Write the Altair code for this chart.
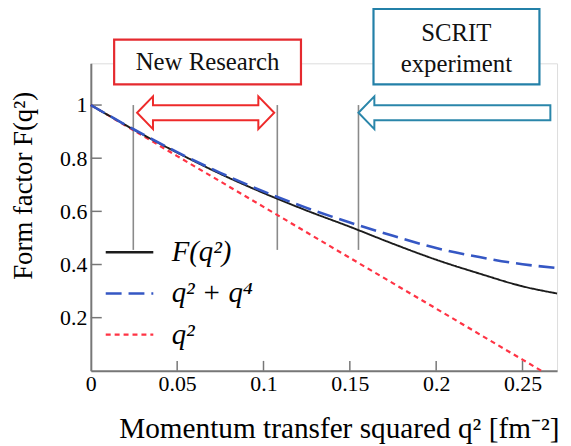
import altair as alt
import pandas as pd

# ---------------- data ----------------
series = ["F(q²)", "q² + q⁴", "q²"]
series_colors = ["#1c1c1c", "#3557c4", "#ff3344"]
series_dash = [[1, 0], [16, 7], [5, 4]]

x_curve = [0, 0.025, 0.05, 0.075, 0.1, 0.125, 0.15, 0.175, 0.2, 0.225, 0.25, 0.27]
f_full = [1.0, 0.907, 0.821, 0.741, 0.669, 0.603, 0.542, 0.478, 0.418, 0.366, 0.318, 0.291]
f_q2q4 = [1.0, 0.908, 0.823, 0.745, 0.675, 0.613, 0.558, 0.508, 0.462, 0.428, 0.401, 0.387]
x_line = [0, 0.05, 0.1, 0.15, 0.2, 0.25, 0.261]
f_q2 = [1.0, 0.808, 0.617, 0.425, 0.234, 0.042, 0.0]

x_ticks = [0, 0.05, 0.1, 0.15, 0.2, 0.25]
y_ticks = [0.2, 0.4, 0.6, 0.8, 1.0]
x_domain = [0, 0.27]
y_domain = [0, 1.157]

marker_x = [0.0246, 0.108, 0.155]
marker_top = [1.0, 1.0, 1.0]
marker_bottom = [0.455, 0.455, 0.455]

box_x0 = [0.0135, 0.1637]
box_x1 = [0.1217, 0.2598]
box_y0 = [1.078, 1.078]
box_y1 = [1.246, 1.362]
box_colors = ["#e52a2f", "#2380a8"]

box_text = ["New Research", "SCRIT", "experiment"]
box_text_x = [0.0676, 0.2117, 0.2117]
box_text_y = [1.160, 1.269, 1.153]

# arrows: start, end, y, heads at (left, right), colour
arrow_x0 = [0.0268, 0.155]
arrow_x1 = [0.1062, 0.2667]
arrow_y = [0.971, 0.971]
arrow_left_head = [True, True]
arrow_right_head = [True, False]
arrow_colors = ["#ee2a2a", "#2a86aa"]

# ---------------- chart ----------------
FONT = "Liberation Serif"
W, H = 470, 310
xs = alt.Scale(domain=x_domain, nice=False, zero=False)
ys = alt.Scale(domain=y_domain, nice=False, zero=False)

curves = pd.concat([
    pd.DataFrame({"x": x_curve, "F": f_full, "series": series[0]}),
    pd.DataFrame({"x": x_curve, "F": f_q2q4, "series": series[1]}),
    pd.DataFrame({"x": x_line, "F": f_q2, "series": series[2]}),
])

legend = alt.Legend(
    title=None, orient="none", legendX=13.5, legendY=165,
    symbolType="stroke", symbolSize=2300, symbolStrokeWidth=2.5,
    labelFont=FONT, labelFontStyle="italic", labelFontSize=29,
    labelColor="black", labelOffset=17, rowPadding=0.5, padding=0,
)

color_enc = alt.Color("series:N", scale=alt.Scale(domain=series, range=series_colors),
                      sort=series, legend=legend)
dash_enc = alt.StrokeDash("series:N", scale=alt.Scale(domain=series, range=series_dash),
                          sort=series, legend=legend)

x_axis = alt.Axis(values=x_ticks, labelExpr="format(datum.value, '~g')", ticks=False,
                  grid=False, labelFont=FONT, labelFontSize=22, labelColor="black",
                  labelPadding=3, domainColor="#777", domainWidth=2,
                  title="Momentum transfer squared q² [fm⁻²]", titleFont=FONT,
                  titleFontSize=29.5, titleFontWeight="normal", titleColor="black",
                  titleX=250, titleY=58, titleBaseline="middle", titleAlign="center",
                  labelFlush=False)
y_axis = alt.Axis(values=y_ticks, labelExpr="format(datum.value, '~g')", ticks=False,
                  grid=False, labelFont=FONT, labelFontSize=22, labelColor="black",
                  labelPadding=4, domainColor="#777", domainWidth=2,
                  title="Form factor F(q²)", titleFont=FONT, titleFontSize=27,
                  titleFontWeight="normal", titleColor="black",
                  titleX=-67.5, titleY=123, titleBaseline="middle", titleAlign="center",
                  titleAngle=270, labelFlush=False)


def X(field):
    return alt.X(field, type="quantitative", scale=xs, axis=x_axis)


def Y(field):
    return alt.Y(field, type="quantitative", scale=ys, axis=y_axis)


def curve_layer(name, width):
    d = curves[curves["series"] == name]
    return alt.Chart(d).mark_line(strokeWidth=width, interpolate="monotone").encode(
        x=X("x"), y=Y("F"), color=color_enc, strokeDash=dash_enc,
    )


layers = []

# inward tick marks
layers.append(alt.Chart(pd.DataFrame({"v": y_ticks})).mark_rule(color="#777", strokeWidth=1.5).encode(
    y=Y("v"), x=alt.value(0), x2=alt.value(11)))
layers.append(alt.Chart(pd.DataFrame({"v": x_ticks[1:]})).mark_rule(color="#777", strokeWidth=1.5).encode(
    x=X("v"), y=alt.value(H), y2=alt.value(H - 10)))

# vertical marker lines
layers.append(alt.Chart(pd.DataFrame({"x": marker_x, "y0": marker_bottom, "y1": marker_top}))
              .mark_rule(color="#8a8a8a", strokeWidth=1.6).encode(
    x=X("x"), y=Y("y0"), y2="y1:Q"))

# curves (z-order: red, black, blue)
layers.append(curve_layer(series[2], 2.2))
layers.append(curve_layer(series[0], 1.9))
layers.append(curve_layer(series[1], 2.6))

# arrows
HEAD = 16
for i in range(len(arrow_x0)):
    c = arrow_colors[i]
    d = pd.DataFrame({"x0": [arrow_x0[i]], "x1": [arrow_x1[i]], "y": [arrow_y[i]]})
    lo = HEAD - 1 if arrow_left_head[i] else 0
    ro = -(HEAD - 1) if arrow_right_head[i] else 0
    layers.append(alt.Chart(d).mark_rule(color=c, strokeWidth=17, strokeCap="butt",
                                         xOffset=lo, x2Offset=ro).encode(
        x=X("x0"), x2="x1:Q", y=Y("y")))
    if arrow_left_head[i]:
        layers.append(alt.Chart(d).mark_point(shape="M 0 0 L 0.97 -1 L 0.97 1 Z", size=1089,
                                              filled=True, fill="white", stroke=c, strokeWidth=2,
                                              opacity=1).encode(x=X("x0"), y=Y("y")))
    if arrow_right_head[i]:
        layers.append(alt.Chart(d).mark_point(shape="M 0 0 L -0.97 -1 L -0.97 1 Z", size=1089,
                                              filled=True, fill="white", stroke=c, strokeWidth=2,
                                              opacity=1).encode(x=X("x1"), y=Y("y")))
    li = HEAD - 2.5 if arrow_left_head[i] else 2
    ri = -(HEAD - 2.5) if arrow_right_head[i] else -2
    layers.append(alt.Chart(d).mark_rule(color="white", strokeWidth=13, strokeCap="butt",
                                         xOffset=li, x2Offset=ri).encode(
        x=X("x0"), x2="x1:Q", y=Y("y")))

# boxes
for i in range(len(box_x0)):
    d = pd.DataFrame({"x0": [box_x0[i]], "x1": [box_x1[i]], "y0": [box_y0[i]], "y1": [box_y1[i]]})
    layers.append(alt.Chart(d).mark_rect(fill="white", stroke=box_colors[i], strokeWidth=2.2).encode(
        x=X("x0"), x2="x1:Q", y=Y("y0"), y2="y1:Q"))

layers.append(alt.Chart(pd.DataFrame({"t": box_text, "x": box_text_x, "y": box_text_y}))
              .mark_text(font=FONT, fontSize=25, color="#111", align="center", baseline="middle").encode(
    x=X("x"), y=Y("y"), text="t:N"))

chart = alt.layer(*layers).properties(
    width=W, height=H,
    autosize=alt.AutoSizeParams(type="none"),
    padding={"left": 83.5, "top": 54, "right": 6, "bottom": 72},
).configure_view(stroke="#7a7a7a", strokeWidth=1.5).configure_axis(
    labelFont=FONT, titleFont=FONT, labelFontSize=22,
    labelColor="black", titleColor="black",
).configure_legend(labelFont=FONT).configure(background="white", font=FONT)

chart.save("out.html", embed_options={"renderer": "svg", "actions": False})
